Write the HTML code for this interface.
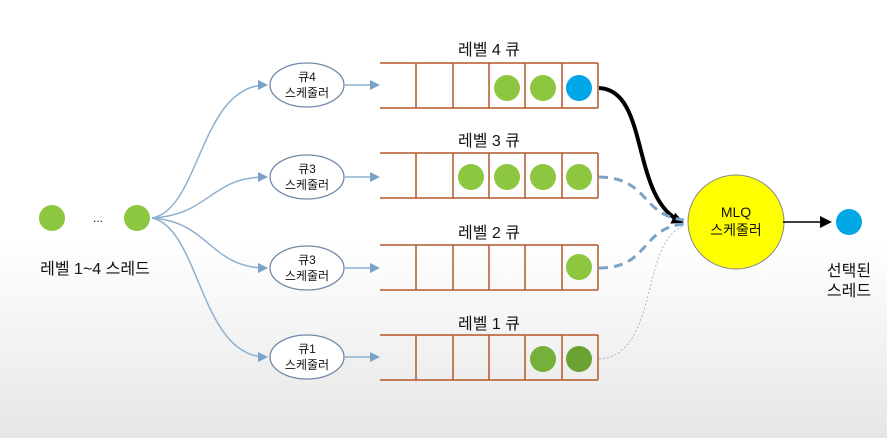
<!DOCTYPE html>
<html><head><meta charset="utf-8"><style>
body{margin:0;width:887px;height:438px;overflow:hidden;background:linear-gradient(#fff 0,#fff 55%,#e6e6e6 100%);}
svg{display:block}
text{font-family:"Liberation Sans","Noto Sans CJK KR",sans-serif;fill:#111}
</style></head><body>
<svg width="887" height="438" viewBox="0 0 887 438">
<defs>
<marker id="ab" markerWidth="10" markerHeight="10" refX="8" refY="5" orient="auto" markerUnits="userSpaceOnUse"><path d="M0,0 L10,5 L0,10 z" fill="#7ba3c7"/></marker>
<marker id="ak" markerWidth="12" markerHeight="12" refX="10" refY="6" orient="auto" markerUnits="userSpaceOnUse"><path d="M0,0 L12,6 L0,12 z" fill="#000"/></marker>
</defs>
<circle cx="52" cy="218" r="13" fill="#8dc63f"/>
<circle cx="137" cy="218" r="13" fill="#8dc63f"/>
<text x="98" y="222" font-size="12" text-anchor="middle">...</text>
<text x="95" y="274" font-size="16" text-anchor="middle">레벨 1~4 스레드</text>
<g fill="none" stroke="#8eb0cf" stroke-width="1.5">
<path d="M152,218 C200,210 200,85 266,85" marker-end="url(#ab)"/>
<path d="M152,218 C210,215 210,177 266,177" marker-end="url(#ab)"/>
<path d="M152,218 C210,222 210,268 266,268" marker-end="url(#ab)"/>
<path d="M152,218 C200,228 200,357 266,357" marker-end="url(#ab)"/>
<path d="M345,85 L378,85" marker-end="url(#ab)"/>
<path d="M345,177 L378,177" marker-end="url(#ab)"/>
<path d="M345,268 L378,268" marker-end="url(#ab)"/>
<path d="M345,357 L378,357" marker-end="url(#ab)"/>
</g>
<g fill="#fff" stroke="#6f8aa8" stroke-width="1.3">
<ellipse cx="307" cy="85" rx="37" ry="22"/>
<ellipse cx="307" cy="177" rx="37" ry="22"/>
<ellipse cx="307" cy="268" rx="37" ry="22"/>
<ellipse cx="307" cy="357" rx="37" ry="22"/>
</g>
<g font-size="12" text-anchor="middle">
<text x="307" y="81">큐4</text><text x="307" y="97">스케줄러</text>
<text x="307" y="173">큐3</text><text x="307" y="189">스케줄러</text>
<text x="307" y="264">큐3</text><text x="307" y="280">스케줄러</text>
<text x="307" y="353">큐1</text><text x="307" y="369">스케줄러</text>
</g>
<g font-size="16" text-anchor="middle">
<text x="489" y="55">레벨 4 큐</text>
<text x="489" y="146">레벨 3 큐</text>
<text x="489" y="238">레벨 2 큐</text>
<text x="489" y="329">레벨 1 큐</text>
</g>
<g stroke="#b4582b" stroke-width="1.5" fill="none">
<path d="M380,63H598M380,108H598M416,63V108M453,63V108M489,63V108M525,63V108M562,63V108M598,63V108"/>
<path d="M380,153H598M380,198H598M416,153V198M453,153V198M489,153V198M525,153V198M562,153V198M598,153V198"/>
<path d="M380,245H598M380,290H598M416,245V290M453,245V290M489,245V290M525,245V290M562,245V290M598,245V290"/>
<path d="M380,335H598M380,380H598M416,335V380M453,335V380M489,335V380M525,335V380M562,335V380M598,335V380"/>
</g>
<g fill="#8dc63f">
<circle cx="507" cy="88" r="13"/><circle cx="543" cy="88" r="13"/>
<circle cx="471" cy="177" r="13"/><circle cx="507" cy="177" r="13"/><circle cx="543" cy="177" r="13"/><circle cx="579" cy="177" r="13"/>
<circle cx="579" cy="267" r="13"/>
</g>
<circle cx="579" cy="88" r="13" fill="#00a6e6"/>
<circle cx="543" cy="359" r="13" fill="#75b03a"/><circle cx="579" cy="359" r="13" fill="#6aa233"/>
<path d="M599,88 C650,90 630,200 682,222" fill="none" stroke="#000" stroke-width="4" marker-end="url(#ak)"/>
<g fill="none" stroke="#7ba3c7" stroke-width="3" stroke-dasharray="9,6">
<path d="M599,177 C650,178 640,215 684,220"/>
<path d="M599,268 C650,268 640,228 684,224"/>
</g>
<path d="M599,359 C660,355 640,240 684,226" fill="none" stroke="#9ab" stroke-width="0.8" stroke-dasharray="2,2"/>
<ellipse cx="736" cy="222" rx="48" ry="47" fill="#ffff00" stroke="#888" stroke-width="1"/>
<text x="736" y="217" font-size="14" text-anchor="middle">MLQ</text>
<text x="736" y="235" font-size="14" text-anchor="middle">스케줄러</text>
<path d="M783,222 L830,222" stroke="#000" stroke-width="1.5" marker-end="url(#ak)"/>
<circle cx="849" cy="222" r="13" fill="#00a6e6"/>
<text x="849" y="276" font-size="16" text-anchor="middle">선택된</text>
<text x="849" y="296" font-size="16" text-anchor="middle">스레드</text>
</svg>
</body></html>
